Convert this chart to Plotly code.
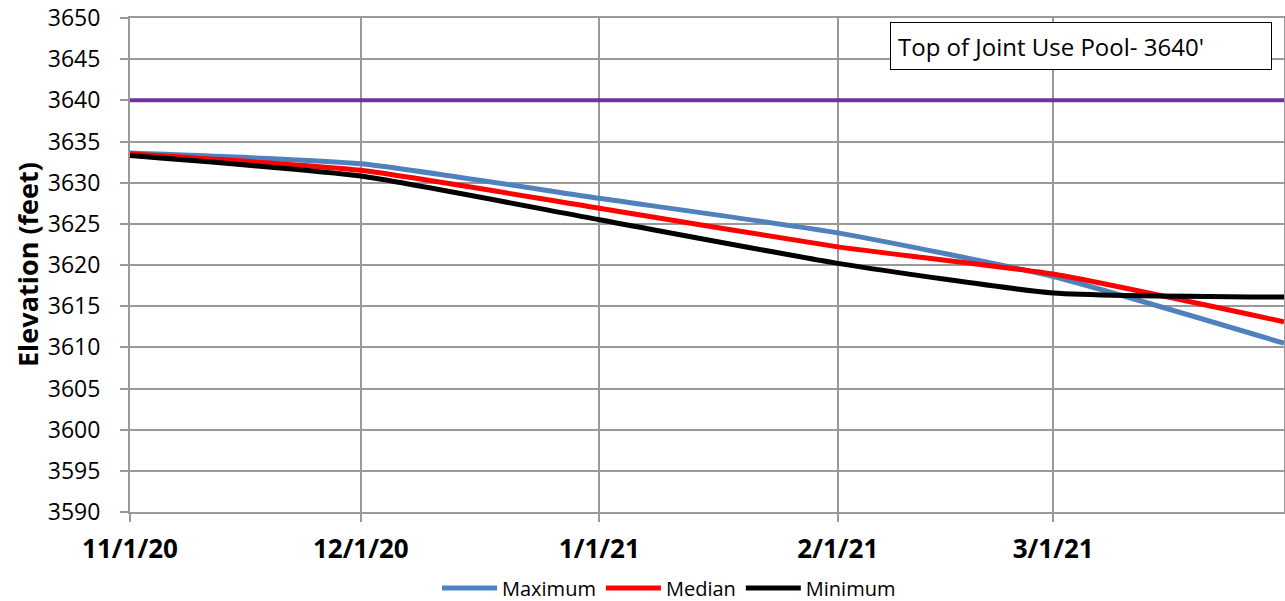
import plotly.graph_objects as go

dates = ["2020-11-01", "2020-12-01", "2021-01-01", "2021-02-01", "2021-03-01", "2021-03-31"]
maximum = [3633.6, 3632.3, 3628.1, 3623.9, 3618.6, 3610.5]
median = [3633.5, 3631.5, 3626.9, 3622.2, 3618.9, 3613.1]
minimum = [3633.3, 3630.8, 3625.5, 3620.2, 3616.6, 3616.1]
pool_dates = ["2020-11-01", "2021-03-31"]
pool_level = [3640, 3640]

tick_dates = ["2020-11-01", "2020-12-01", "2021-01-01", "2021-02-01", "2021-03-01"]
tick_labels = ["11/1/20", "12/1/20", "1/1/21", "2/1/21", "3/1/21"]

font_family = "Open Sans, Noto Sans, DejaVu Sans, sans-serif"

L, R, T, B = 130, 1, 18, 89
W, H = 1285, 601
pw = W - L - R
ph = H - T - B

fig = go.Figure()
fig.add_trace(go.Scatter(x=pool_dates, y=pool_level, mode="lines",
                         line=dict(color="#7030A0", width=4), showlegend=False, hoverinfo="skip"))
fig.add_trace(go.Scatter(x=dates, y=maximum, mode="lines", name="Maximum",
                         line=dict(color="#4F81BD", width=5, shape="spline", smoothing=0.5)))
fig.add_trace(go.Scatter(x=dates, y=median, mode="lines", name="Median",
                         line=dict(color="#FF0000", width=5, shape="spline", smoothing=0.5)))
fig.add_trace(go.Scatter(x=dates, y=minimum, mode="lines", name="Minimum",
                         line=dict(color="#000000", width=5, shape="spline", smoothing=0.5)))

fig.add_annotation(x=(1272 - L) / pw, y=(H - B - 22) / ph, xref="paper", yref="paper",
                   xanchor="right", yanchor="top",
                   text="Top of Joint Use Pool- 3640'", showarrow=False,
                   font=dict(size=24, color="#000000", family=font_family),
                   bordercolor="#000000", borderwidth=1, bgcolor="#FFFFFF",
                   borderpad=7, width=366, height=32, align="left", valign="middle",
                   xshift=0)

fig.add_annotation(x=-(L - 27) / pw, y=0.5, xref="paper", yref="paper",
                   xanchor="center", yanchor="middle", textangle=-90,
                   text="<b>Elevation (feet)</b>", showarrow=False,
                   font=dict(size=27, color="#000000", family=font_family))

fig.update_layout(
    width=W, height=H,
    margin=dict(l=L, r=R, t=T, b=B, autoexpand=False),
    paper_bgcolor="#FFFFFF", plot_bgcolor="#FFFFFF",
    font=dict(family=font_family, color="#000000"),
    legend=dict(orientation="h", xref="container", yref="container",
                x=669 / W, xanchor="center", y=1 - 588 / H, yanchor="middle",
                font=dict(size=20, color="#000000"), itemwidth=55, tracegroupgap=0,
                bgcolor="rgba(0,0,0,0)"),
    xaxis=dict(range=["2020-11-01", "2021-03-31"], tickvals=tick_dates, ticktext=tick_labels,
               tickfont=dict(size=26, color="#000000", family=font_family, weight="bold"),
               showgrid=True, gridcolor="#999999", gridwidth=2,
               ticks="outside", ticklen=8, tickcolor="#999999", tickwidth=2,
               ticklabelstandoff=5, automargin=False,
               showline=True, linecolor="#999999", linewidth=2, mirror=True, zeroline=False),
    yaxis=dict(range=[3590, 3650], dtick=5, tick0=3590,
               tickfont=dict(size=23, color="#000000", family=font_family),
               showgrid=True, gridcolor="#999999", gridwidth=2,
               ticks="outside", ticklen=8, tickcolor="#999999", tickwidth=2,
               ticklabelstandoff=15, automargin=False,
               showline=True, linecolor="#999999", linewidth=2, mirror=True, zeroline=False),
)

fig.write_html("out.html", config={"displayModeBar": False},
               post_script="document.body.style.margin='0px';")
